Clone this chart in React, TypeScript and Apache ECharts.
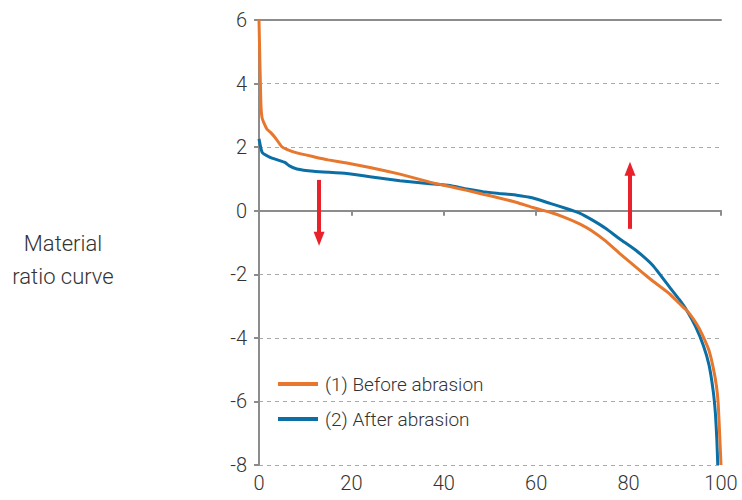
import React, { useEffect, useRef } from "react";
import * as echarts from "echarts";

const xTicks = [0, 20, 40, 60, 80, 100];
const yTicks = [-8, -6, -4, -2, 0, 2, 4, 6];

const seriesNames = ["(1) Before abrasion", "(2) After abrasion"];

const beforeAbrasion: [number, number][] = [
  [0, 6], [0.4, 3.4], [0.7, 2.9], [1.7, 2.57], [2.6, 2.45], [3.5, 2.3], [4.9, 2.02],
  [6, 1.93], [8.2, 1.82], [11.8, 1.7], [15, 1.6], [19, 1.5], [24, 1.36], [30.5, 1.15],
  [37, 0.9], [41.3, 0.76], [45, 0.64], [48.5, 0.52], [52, 0.4], [55.8, 0.26], [59.3, 0.1],
  [63, -0.05], [66, -0.2], [69.5, -0.42], [72, -0.63], [75, -0.95], [78.1, -1.35],
  [80.3, -1.62], [83, -1.95], [85.3, -2.22], [88.9, -2.62], [91, -2.92], [92.6, -3.14],
  [94, -3.4], [95.2, -3.68], [96.2, -3.98], [97.4, -4.4], [98.3, -4.93], [99, -5.5],
  [99.4, -6.08], [99.7, -7], [100, -8],
];

const afterAbrasion: [number, number][] = [
  [0, 2.26], [0.7, 1.83], [2.4, 1.68], [4, 1.6], [5.6, 1.52], [6.5, 1.42], [8.2, 1.31],
  [11.8, 1.24], [19, 1.17], [24, 1.07], [30.5, 0.94], [37, 0.85], [41.3, 0.79],
  [45, 0.68], [48.5, 0.6], [52, 0.54], [55.8, 0.49], [59.3, 0.4], [63, 0.23],
  [66.5, 0.07], [69.5, -0.08], [72, -0.28], [75, -0.55], [78.1, -0.89], [81.7, -1.26],
  [85.3, -1.73], [88.9, -2.41], [91, -2.8], [92.6, -3.14], [94.5, -3.65], [96.2, -4.25],
  [97.4, -4.85], [98.3, -5.66], [98.8, -6.4], [99.1, -7.2], [99.3, -8],
];

const downArrow: [number, number][] = [[13, 0.97], [13, -0.88]];
const upArrow: [number, number][] = [[80.3, -0.57], [80.3, 1.32]];

const ORANGE = "#E8772E";
const BLUE = "#0B6FA6";
const RED = "#E8212B";
const AXIS = "#8C8C8C";
const TEXT = "#333333";
const FONT = "Roboto, 'Liberation Sans', sans-serif";

export default function App() {
  const ref = useRef<HTMLDivElement>(null);
  useEffect(() => {
    if (!ref.current) return;
    const chart = echarts.init(ref.current, undefined, { renderer: "svg" });
    const arrowLine = (pts: [number, number][]) => ({
      silent: true,
      symbol: ["none", "triangle"],
      symbolSize: [11, 14],
      label: { show: false },
      lineStyle: { color: RED, width: 4, type: "solid" },
      itemStyle: { color: RED },
      data: [[{ coord: pts[0] }, { coord: pts[1] }]],
    });
    chart.setOption({
      animation: false,
      textStyle: { fontFamily: FONT },
      grid: { left: 259, right: 21, top: 20, bottom: 35, containLabel: false },
      legend: {
        left: 278,
        top: 373,
        padding: 0,
        orient: "vertical",
        itemWidth: 40,
        itemHeight: 4,
        itemGap: 13,
        icon: "rect",
        data: seriesNames,
        textStyle: { fontFamily: FONT, fontSize: 19, color: TEXT, fontWeight: 300, lineHeight: 22, padding: [0, 0, 0, 2] },
      },
      xAxis: [
        {
          type: "value",
          min: xTicks[0],
          max: xTicks[xTicks.length - 1],
          interval: 20,
          axisLine: { show: true, lineStyle: { color: AXIS, width: 2 } },
          axisTick: { show: true, length: 5, lineStyle: { color: AXIS, width: 2 } },
          axisLabel: { color: TEXT, fontSize: 20, fontWeight: 300, margin: 8, fontFamily: FONT },
          splitLine: { show: false },
        },
        {
          type: "value",
          position: "top",
          min: 0,
          max: 100,
          axisLine: { show: true, onZero: false, lineStyle: { color: AXIS, width: 2 } },
          axisTick: { show: false },
          axisLabel: { show: false },
          splitLine: { show: false },
        },
      ],
      yAxis: {
        type: "value",
        min: yTicks[0],
        max: yTicks[yTicks.length - 1],
        interval: 2,
        axisLine: { show: true, onZero: false, lineStyle: { color: AXIS, width: 2 } },
        axisTick: { show: true, length: 5, lineStyle: { color: AXIS, width: 2 } },
        axisLabel: { color: TEXT, fontSize: 20, fontWeight: 300, margin: 12, fontFamily: FONT },
        splitLine: { show: true, lineStyle: { color: "#AAAAAA", width: 1, type: [4, 4] } },
      },
      graphic: [
        {
          type: "text",
          x: 63,
          y: 243,
          style: {
            text: "Material",
            fill: TEXT,
            font: `300 22px ${FONT}`,
            align: "center",
            verticalAlign: "middle",
          },
        },
        {
          type: "text",
          x: 63,
          y: 276,
          style: {
            text: "ratio curve",
            fill: TEXT,
            font: `300 22px ${FONT}`,
            align: "center",
            verticalAlign: "middle",
          },
        },
      ],
      series: [
        {
          name: seriesNames[0],
          type: "line",
          data: beforeAbrasion,
          showSymbol: false,
          smooth: 0.15,
          lineStyle: { color: ORANGE, width: 3 },
          itemStyle: { color: ORANGE },
          z: 3,
          markLine: arrowLine(downArrow),
        },
        {
          name: seriesNames[1],
          type: "line",
          data: afterAbrasion,
          showSymbol: false,
          smooth: 0.15,
          lineStyle: { color: BLUE, width: 3 },
          itemStyle: { color: BLUE },
          z: 2,
          markLine: arrowLine(upArrow),
        },
      ],
    });
    return () => chart.dispose();
  }, []);
  return (
    <div
      ref={ref}
      style={{ position: "fixed", left: 0, top: 0, width: 742, height: 500, background: "#fff" }}
    />
  );
}
